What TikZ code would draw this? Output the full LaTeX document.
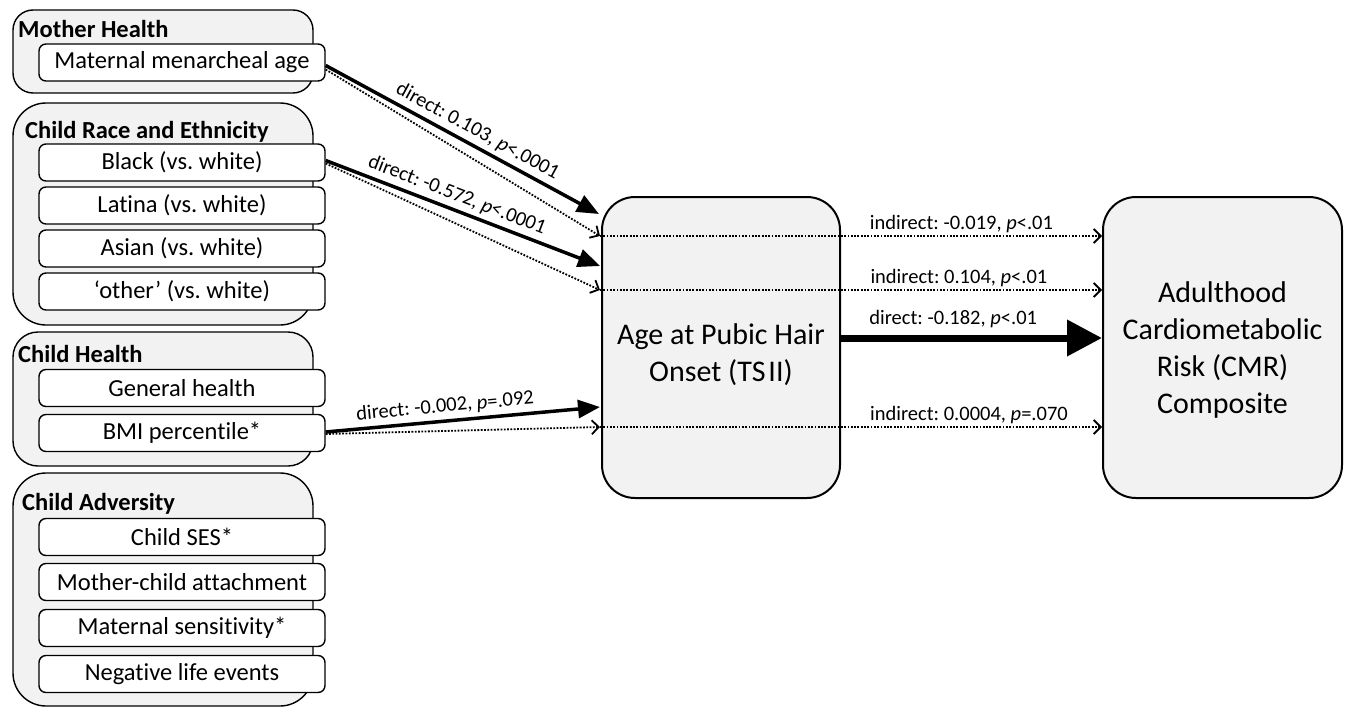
\documentclass[tikz,border=0pt]{standalone}
\usepackage{fontspec}
\setmainfont[Ligatures=NoCommon]{Carlito}
\usetikzlibrary{arrows.meta,calc}
\definecolor{boxgray}{HTML}{F2F2F2}
\frenchspacing
\begin{document}
\begin{tikzpicture}[x=1pt,y=-1pt,
  grp/.style={draw=black, line width=1.4pt, fill=boxgray, rectangle, inner sep=0pt, minimum width=300pt},
  item/.style={draw=black, line width=1.4pt, fill=white, rounded corners=7pt, minimum width=286pt, minimum height=37pt, inner sep=0pt, font=\fontsize{24.5}{28}\selectfont},
  ttl/.style={anchor=base west, inner sep=0pt, font=\fontsize{24.5}{28}\selectfont\bfseries},
  big/.style={draw=black, line width=2pt, fill=boxgray, rounded corners=33pt, minimum width=238pt, minimum height=301pt, inner sep=0pt},
  lbl/.style={font=\fontsize{20.5}{24}\selectfont, inner sep=2pt},
  slbl/.style={font=\fontsize{20.5}{24}\selectfont, inner sep=4pt},
  dir/.style={line width=3.5pt, -{Triangle[length=22pt,width=18pt]}},
  ind/.style={line width=1.8pt, dash pattern=on 1.8pt off 1.5pt, -{Straight Barb[length=7pt,width=14pt]}}
]
\useasboundingbox (0,0) rectangle (1347,709);

% group boxes
\node[grp, rounded corners=20pt, minimum height=83pt] (gmh) at (163,51.5) {};
\node[grp, rounded corners=33pt, minimum height=222pt] (grace) at (163,214) {};
\node[grp, rounded corners=25pt, minimum height=134pt] (gch) at (163,399) {};
\node[grp, rounded corners=33pt, minimum height=233pt] (gca) at (163,589.5) {};

\node[ttl] (tmh) at (18,38) {Mother Health};
\node[ttl] (trace) at (25,138) {Child Race and Ethnicity};
\node[ttl] (tch) at (18,362) {Child Health};
\node[ttl] (tca) at (22,510) {Child Adversity};

% items
\node[item] (mma) at (182,62.5) {Maternal menarcheal age};
\node[item] (blk) at (182,162.5) {Black (vs. white)};
\node[item] (lat) at (182,205.5) {Latina (vs. white)};
\node[item] (asn) at (182,248.5) {Asian (vs. white)};
\node[item] (oth) at (182,291.5) {‘other’ (vs. white)};
\node[item] (gen) at (182,388) {General health};
\node[item] (bmi) at (182,433) {BMI percentile*};
\node[item] (ses) at (182,537) {Child SES*};
\node[item] (mca) at (182,582) {Mother-child attachment};
\node[item] (mse) at (182,628) {Maternal sensitivity*};
\node[item] (nle) at (182,674) {Negative life events};

% main boxes
\node[big] (mid) at (721,347.5) {};
\node[big, minimum width=239pt] (rb) at (1222.5,347.5) {};
\node[align=center, font=\fontsize{30}{37}\selectfont, inner sep=0pt] (midtxt) at (721,355) {Age at Pubic Hair\\Onset (TS\kern3pt II)};
\node[align=center, font=\fontsize{30}{36.7}\selectfont, inner sep=0pt] (rbtxt) at (1222.5,350) {Adulthood\\Cardiometabolic\\Risk (CMR)\\Composite};

% entry points on the middle box
\coordinate (a1) at ($(mid.north west)+(-2,18)$);
\coordinate (a2) at ($(mid.north west)+(-1,40)$);
\coordinate (a3) at ($(mid.north west)+(-1,70)$);
\coordinate (a4) at ($(mid.north west)+(-1,94)$);
\coordinate (a5) at ($(mid.north west)+(-1,211)$);
\coordinate (a6) at ($(mid.north west)+(-1,231)$);

% dotted indirect paths
\draw[ind] ($(mma.east)+(0,7)$) -- (a2);
\draw[ind] ($(blk.east)+(0,1)$) -- (a4);
\draw[ind] ($(bmi.east)+(0,1)$) -- (a6);

% direct paths
\draw[dir] ($(mma.east)+(0,3)$) -- (a1) node[slbl, above, sloped, pos=0.53] (l1) {direct: 0.103, \textit{p}<.0001};
\draw[dir] ($(blk.east)+(0,-2)$) -- (a3) node[slbl, above, sloped, pos=0.46] (l2) {direct: -0.572, \textit{p}<.0001};
\draw[dir] ($(bmi.east)+(0,-1)$) -- (a5) node[slbl, above, sloped, pos=0.44] (l3) {direct: -0.002, \textit{p}=.092};

% to outcome
\draw[ind] (a2) -- (a2 -| rb.west) node[lbl, above, pos=0.72] (l4) {indirect: -0.019, \textit{p}<.01};
\draw[ind] (a4) -- (a4 -| rb.west) node[lbl, above, pos=0.715] (l5) {indirect: 0.104, \textit{p}<.01};
\draw[ind] (a6) -- (a6 -| rb.west) node[lbl, above, pos=0.735] (l7) {indirect: 0.0004, \textit{p}=.070};
\draw[line width=7pt, -{Triangle[length=35pt,width=35pt]}] ($(mid.east)+(0,-9.5)$) -- ($(rb.west)+(0,-9.5)$) node[lbl, above=5pt, pos=0.43] (l6) {direct: -0.182, \textit{p}<.01};
\end{tikzpicture}
\end{document}
